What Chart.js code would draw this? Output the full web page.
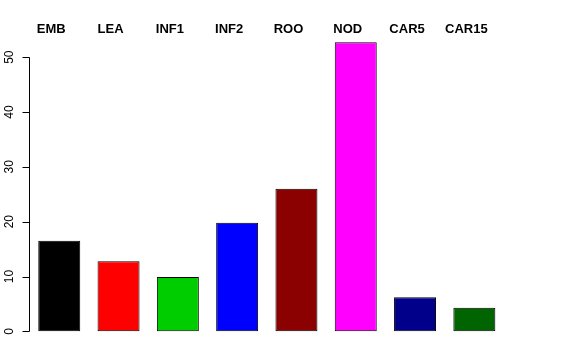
<!DOCTYPE html>
<html>
<head>
<meta charset="utf-8">
<script src="https://cdn.jsdelivr.net/npm/chart.js@4/dist/chart.umd.min.js"></script>
<style>
html,body{margin:0;padding:0;background:#fff;}
#wrap{width:576px;height:360px;position:relative;}
</style>
</head>
<body>
<div id="wrap"><canvas id="c" width="576" height="360"></canvas></div>
<script>
const categories = ["EMB", "LEA", "INF1", "INF2", "ROO", "NOD", "CAR5", "CAR15"];
const values = [16.5, 12.8, 9.9, 19.8, 26.0, 52.7, 6.2, 4.3];
const barColors = ["#000000", "#FF0000", "#00CD00", "#0000FF", "#8B0000", "#FF00FF", "#00008B", "#006400"];
const yTicks = [0, 10, 20, 30, 40, 50];

const FONT = "'Liberation Sans', Arial, Helvetica, sans-serif";
const yMax = Math.max(...values) * 1.04;
const yMin = -Math.max(...values) * 0.04;

const rAxes = {
  id: 'rAxes',
  afterDraw(chart) {
    const ctx = chart.ctx;
    const y = chart.scales.y, x = chart.scales.x;
    const ax = 29;
    ctx.save();
    ctx.strokeStyle = '#000';
    ctx.lineWidth = 1;
    ctx.beginPath();
    ctx.moveTo(ax + 0.5, Math.round(y.getPixelForValue(yTicks[0])) + 0.5);
    ctx.lineTo(ax + 0.5, Math.round(y.getPixelForValue(yTicks[yTicks.length - 1])) + 0.5);
    yTicks.forEach(t => {
      const py = Math.round(y.getPixelForValue(t)) + 0.5;
      ctx.moveTo(ax + 0.5, py);
      ctx.lineTo(ax - 7 + 0.5, py);
    });
    ctx.stroke();
    ctx.fillStyle = '#000';
    ctx.font = '12px ' + FONT;
    ctx.textAlign = 'center';
    ctx.textBaseline = 'middle';
    yTicks.forEach(t => {
      const py = y.getPixelForValue(t);
      ctx.save();
      ctx.translate(10, py);
      ctx.rotate(-Math.PI / 2);
      ctx.fillText(String(t), 0, 0);
      ctx.restore();
    });
    ctx.font = 'bold 13px ' + FONT;
    categories.forEach((c, i) => {
      const px = x.getPixelForValue(i) - 8;
      ctx.fillText(c, px, 29);
    });
    ctx.restore();
  }
};

new Chart(document.getElementById('c'), {
  type: 'bar',
  data: {
    labels: categories,
    datasets: [{
      data: values,
      backgroundColor: barColors,
      borderColor: '#000',
      borderWidth: 1,
      borderSkipped: false,
      barPercentage: 0.708,
      categoryPercentage: 1.0
    }]
  },
  options: {
    responsive: false,
    animation: false,
    layout: { padding: { left: 29.6, right: 72, top: 30.8, bottom: 17.1 } },
    plugins: { legend: { display: false }, tooltip: { enabled: false }, title: { display: false } },
    scales: {
      x: { display: false, offset: true },
      y: { display: false, min: yMin, max: yMax }
    }
  },
  plugins: [rAxes]
});
</script>
</body>
</html>
